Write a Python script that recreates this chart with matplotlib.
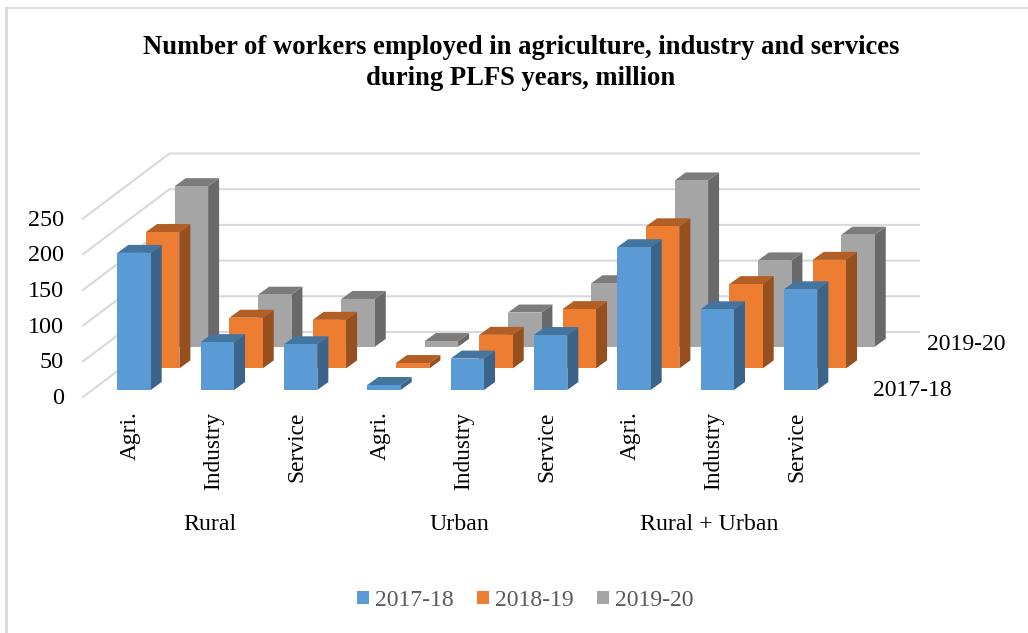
import matplotlib
matplotlib.use("Agg")
import matplotlib.pyplot as plt
from matplotlib.lines import Line2D
from matplotlib.patches import Polygon, Rectangle

categories = ["Agri.", "Industry", "Service"] * 3
groups = ["Rural", "Urban", "Rural + Urban"]
years = ["2017-18", "2018-19", "2019-20"]
depth_labels = ["2017-18", "", "2019-20"]
y_ticks = [0, 50, 100, 150, 200, 250]

values_2017 = [192, 67, 64, 7, 44, 77, 200, 113, 141]
values_2018 = [191, 71, 68, 7.5, 47, 83, 199, 118, 152]
values_2019 = [225, 73, 67, 8, 48, 89, 233, 121, 157]

front_colors = ["#5b9bd5", "#ed7d31", "#a5a5a5"]
top_colors = ["#44759f", "#b25e25", "#7c7c7c"]
side_colors = ["#3a648a", "#964f1e", "#696969"]

W, H = 1028, 633
PX_X = 83.33          # pixels per category
PX_Y = 35.7 / 50      # pixels per million
BASE_X, BASE_Y = 134, 390


# oblique projection offsets, pixels turned into data units
def dx(px):
    return px / PX_X


def dy(px):
    return px / PX_Y


def px_to_fig(x, y):
    return x / W, 1 - y / H


plt.rcParams["font.family"] = ["Liberation Serif", "DejaVu Serif"]

fig = plt.figure(figsize=(W / 100, H / 100), dpi=100)
ax = fig.add_axes([0, 0, 1, 1])
ax.set_xlim(-BASE_X / PX_X, (W - BASE_X) / PX_X)
ax.set_ylim(-(H - BASE_Y) / PX_Y, BASE_Y / PX_Y)
ax.axis("off")

# chart frame, only the top and left edges are in view
ax.add_line(Line2D([dx(6 - BASE_X), dx(W - BASE_X)], [dy(BASE_Y - 8)] * 2, color="#d9d9d9", lw=1.2))
ax.add_line(Line2D([dx(6 - BASE_X)] * 2, [dy(BASE_Y - 8), dy(BASE_Y - H)], color="#d9d9d9", lw=2))

# gridlines on the side wall and back wall
floor_front = dy(BASE_Y - 397)
floor_back = dy(BASE_Y - 332)
wall_front_x = dx(83 - BASE_X)
wall_back_x = dx(169.5 - BASE_X)
wall_end_x = dx(919 - BASE_X)
for tick in y_ticks:
    ax.plot([wall_front_x, wall_back_x, wall_end_x],
            [floor_front + tick, floor_back + tick, floor_back + tick],
            color="#d9d9d9", lw=1.5, zorder=1, solid_joinstyle="miter")
    tx, ty = px_to_fig(64, 397 - tick * PX_Y + 1.5)
    fig.text(tx, ty, str(tick), ha="right", va="center", fontsize=17.4, color="black")

# back series first so the nearer ones cover it
series = [values_2017, values_2018, values_2019]
for s in [2, 1, 0]:
    off_x = s * dx(28.7)
    off_y = s * dy(21.6)
    for i, v in enumerate(series[s]):
        left = i - dx(16.7) + off_x
        right = i + dx(16.7) + off_x
        depth_x = dx(11)
        depth_y = dy(8)
        z = 5 - s
        ax.add_patch(Polygon([(right, off_y), (right + depth_x, off_y + depth_y),
                              (right + depth_x, off_y + depth_y + v), (right, off_y + v)],
                             facecolor=side_colors[s], edgecolor="none", zorder=z))
        ax.add_patch(Polygon([(left, off_y + v), (right, off_y + v),
                              (right + depth_x, off_y + v + depth_y), (left + depth_x, off_y + v + depth_y)],
                             facecolor=top_colors[s], edgecolor="none", zorder=z))
        ax.add_patch(Rectangle((left, off_y), right - left, v,
                               facecolor=front_colors[s], edgecolor="none", zorder=z))

# category labels
for i, name in enumerate(categories):
    tx, ty = px_to_fig(BASE_X + PX_X * i - 4, 411.5)
    fig.text(tx, ty, name, rotation=90, ha="center", va="top", fontsize=16.8, color="black")
for i, name in enumerate(groups):
    tx, ty = px_to_fig(BASE_X + PX_X * (3 * i + 1) - 8, 524)
    fig.text(tx, ty, name, ha="center", va="center", fontsize=17.2, color="black")

# labels of the depth axis
tx, ty = px_to_fig(873, 390.5)
fig.text(tx, ty, depth_labels[0], ha="left", va="center", fontsize=17, color="black")
tx, ty = px_to_fig(927, 344.5)
fig.text(tx, ty, depth_labels[2], ha="left", va="center", fontsize=17, color="black")

# title
tx, ty = px_to_fig(521, 63)
fig.text(tx, ty, "Number of workers employed in agriculture, industry and services\nduring PLFS years, million",
         ha="center", va="center", fontsize=19.2, fontweight="bold", color="black", linespacing=1.36)

# legend
handles = [Rectangle((0, 0), 1, 1, facecolor=c, edgecolor="none") for c in front_colors]
fig.legend(handles, years, loc="center", bbox_to_anchor=px_to_fig(525.5, 600.5), ncols=3, frameon=False,
           fontsize=17, labelcolor="#595959", handlelength=0.5, handleheight=0.5,
           handletextpad=0.26, columnspacing=1.0, borderpad=0, borderaxespad=0)

fig.savefig("out.png", dpi=100, facecolor="white")
